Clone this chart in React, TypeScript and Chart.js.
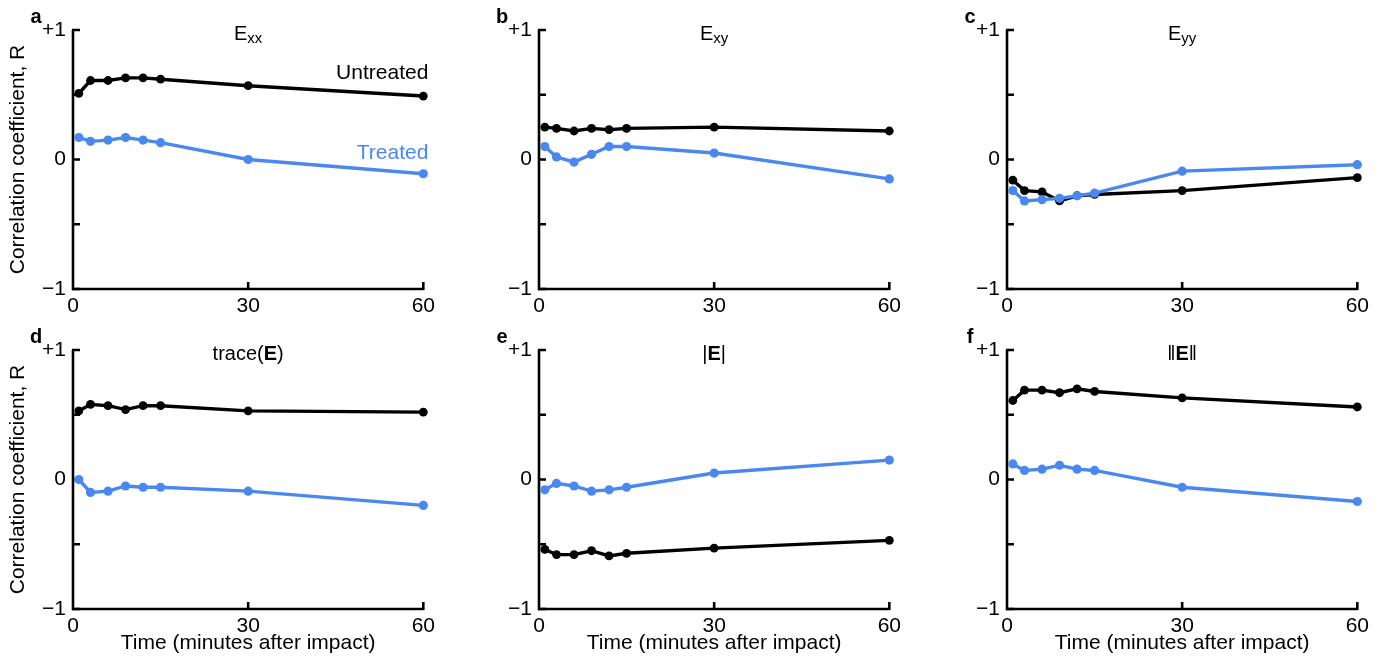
import React, { useEffect, useRef } from "react";
import { Chart, registerables } from "chart.js";

Chart.register(...registerables);

// ---- data ----
const times = [1, 3, 6, 9, 12, 15, 30, 60];

const exxUntreated = [0.51, 0.61, 0.61, 0.63, 0.63, 0.62, 0.57, 0.49];
const exxTreated = [0.17, 0.14, 0.15, 0.17, 0.15, 0.13, 0.0, -0.11];

const exyUntreated = [0.25, 0.24, 0.22, 0.24, 0.23, 0.24, 0.25, 0.22];
const exyTreated = [0.1, 0.02, -0.02, 0.04, 0.1, 0.1, 0.05, -0.15];

const eyyUntreated = [-0.16, -0.24, -0.25, -0.32, -0.28, -0.27, -0.24, -0.14];
const eyyTreated = [-0.24, -0.32, -0.31, -0.3, -0.28, -0.26, -0.09, -0.04];

const traceUntreated = [0.53, 0.58, 0.57, 0.54, 0.57, 0.57, 0.53, 0.52];
const traceTreated = [0.0, -0.1, -0.09, -0.05, -0.06, -0.06, -0.09, -0.2];

const detUntreated = [-0.54, -0.58, -0.58, -0.55, -0.59, -0.57, -0.53, -0.47];
const detTreated = [-0.08, -0.03, -0.05, -0.09, -0.08, -0.06, 0.05, 0.15];

const normUntreated = [0.61, 0.69, 0.69, 0.67, 0.7, 0.68, 0.63, 0.56];
const normTreated = [0.12, 0.07, 0.08, 0.11, 0.08, 0.07, -0.06, -0.17];

const xTicks = [0, 30, 60];
const yTicks = [-1, 0, 1];
const yTickLabels = ["\u22121", "0", "+1"];
const yMinorTicks = [-0.5, 0.5];
const seriesNames = ["Untreated", "Treated"];
const xTitle = "Time (minutes after impact)";
const yTitle = "Correlation coefficient, R";

// ---- style ----
const BLACK = "#000000";
const BLUE = "#4a88f0";
const FONT = "'Liberation Sans', Arial, Helvetica, sans-serif";

type Seg = { t: string; bold?: boolean; sub?: boolean };
type PanelCfg = {
  letter: string;
  title: Seg[];
  untreated: number[];
  treated: number[];
  showLabels?: boolean;
};

const panels: PanelCfg[] = [
  { letter: "a", title: [{ t: "E" }, { t: "xx", sub: true }], untreated: exxUntreated, treated: exxTreated, showLabels: true },
  { letter: "b", title: [{ t: "E" }, { t: "xy", sub: true }], untreated: exyUntreated, treated: exyTreated },
  { letter: "c", title: [{ t: "E" }, { t: "yy", sub: true }], untreated: eyyUntreated, treated: eyyTreated },
  { letter: "d", title: [{ t: "trace(" }, { t: "E", bold: true }, { t: ")" }], untreated: traceUntreated, treated: traceTreated },
  { letter: "e", title: [{ t: "|" }, { t: "E", bold: true }, { t: "|" }], untreated: detUntreated, treated: detTreated },
  { letter: "f", title: [{ t: "\u2016" }, { t: "E", bold: true }, { t: "\u2016" }], untreated: normUntreated, treated: normTreated },
];

const COL_LEFT = [0, 466, 934];
const CANVAS_W = 440;

function makeDecor(cfg: PanelCfg) {
  return {
    id: "decor",
    beforeDatasetsDraw(chart: any) {
      const { ctx, chartArea } = chart;
      const { left, right, top, bottom } = chartArea;
      const xs = chart.scales.x;
      const ys = chart.scales.y;
      ctx.save();
      ctx.strokeStyle = BLACK;
      ctx.lineWidth = 2.6;
      ctx.lineJoin = "miter";
      ctx.lineCap = "butt";
      ctx.beginPath();
      ctx.moveTo(left, top);
      ctx.lineTo(left, bottom);
      ctx.lineTo(right, bottom);
      ctx.stroke();
      ctx.beginPath();
      [...yTicks, ...yMinorTicks].forEach((v) => {
        const py = ys.getPixelForValue(v);
        ctx.moveTo(left - 1, py);
        ctx.lineTo(left + 7, py);
      });
      xTicks
        .filter((v) => v > 0)
        .forEach((v) => {
          const px = xs.getPixelForValue(v);
          ctx.moveTo(px, bottom + 1);
          ctx.lineTo(px, bottom - 7);
        });
      ctx.stroke();

      // panel letter
      ctx.fillStyle = BLACK;
      ctx.font = `bold 20px ${FONT}`;
      ctx.textAlign = "center";
      ctx.textBaseline = "alphabetic";
      ctx.fillText(cfg.letter, left - 37, top - 7.5);

      // panel title
      const mainSize = 20;
      const subSize = 15;
      const widths = cfg.title.map((s) => {
        ctx.font = `${s.bold ? "bold " : ""}${s.sub ? subSize : mainSize}px ${FONT}`;
        return ctx.measureText(s.t).width;
      });
      const total = widths.reduce((a, b) => a + b, 0);
      let px = (left + right) / 2 - total / 2;
      const base = top + 10;
      ctx.textAlign = "left";
      cfg.title.forEach((s, i) => {
        ctx.font = `${s.bold ? "bold " : ""}${s.sub ? subSize : mainSize}px ${FONT}`;
        ctx.fillText(s.t, px, base + (s.sub ? 3 : 0));
        px += widths[i];
      });

      if (cfg.showLabels) {
        ctx.font = `21px ${FONT}`;
        ctx.textAlign = "right";
        ctx.textBaseline = "middle";
        ctx.fillStyle = BLACK;
        ctx.fillText(seriesNames[0], right + 5, ys.getPixelForValue(0.67));
        ctx.fillStyle = BLUE;
        ctx.fillText(seriesNames[1], right + 5, ys.getPixelForValue(0.045));
      }
      ctx.restore();
    },
  };
}

function Panel({ cfg, row, col }: { cfg: PanelCfg; row: number; col: number }) {
  const ref = useRef<HTMLCanvasElement | null>(null);
  const height = row === 0 ? 318 : 338;
  const top = row === 0 ? 0 : 320;
  useEffect(() => {
    if (!ref.current) return;
    const tickFont = { family: FONT, size: 21 };
    const chart = new Chart(ref.current, {
      type: "line",
      data: {
        datasets: [
          {
            label: seriesNames[1],
            data: times.map((t, i) => ({ x: t, y: cfg.treated[i] })),
            borderColor: BLUE,
            backgroundColor: BLUE,
            borderWidth: 3.4,
            pointRadius: 4.6,
            pointHoverRadius: 4.6,
            pointBorderWidth: 0,
            tension: 0,
            clip: false as any,
          },
          {
            label: seriesNames[0],
            data: times.map((t, i) => ({ x: t, y: cfg.untreated[i] })),
            borderColor: BLACK,
            backgroundColor: BLACK,
            borderWidth: 3.4,
            pointRadius: 4.4,
            pointHoverRadius: 4.4,
            pointBorderWidth: 0,
            tension: 0,
            clip: false as any,
          },
        ],
      },
      options: {
        responsive: false,
        animation: false,
        events: [],
        devicePixelRatio: 1,
        layout: { padding: { top: 30, right: 13, bottom: 0, left: 0 } },
        plugins: {
          legend: { display: false },
          tooltip: { enabled: false },
          title: { display: false },
        },
        scales: {
          x: {
            type: "linear",
            min: 0,
            max: 60,
            grid: { display: false, drawTicks: false },
            border: { display: false },
            afterBuildTicks: (s: any) => {
              s.ticks = xTicks.map((v) => ({ value: v }));
            },
            ticks: {
              font: tickFont,
              color: BLACK,
              padding: 5,
              maxRotation: 0,
              autoSkip: false,
              callback: (v: any) => String(v),
            },
            title: {
              display: row === 1,
              text: xTitle,
              font: tickFont,
              color: BLACK,
              padding: { top: 0, bottom: 2 },
            },
            afterFit: (s: any) => {
              s.height = row === 0 ? 29 : 49;
            },
          },
          y: {
            type: "linear",
            min: -1,
            max: 1,
            grid: { display: false, drawTicks: false },
            border: { display: false },
            afterBuildTicks: (s: any) => {
              s.ticks = yTicks.map((v) => ({ value: v }));
            },
            ticks: {
              font: tickFont,
              color: BLACK,
              padding: 7,
              autoSkip: false,
              callback: (v: any) => yTickLabels[yTicks.indexOf(Number(v))],
            },
            title: {
              display: col === 0,
              text: yTitle,
              font: tickFont,
              color: BLACK,
              padding: { top: 6, bottom: 0 },
            },
            afterFit: (s: any) => {
              s.width = 73;
            },
          },
        },
      },
      plugins: [makeDecor(cfg)],
    } as any);
    return () => chart.destroy();
  }, [cfg, row, col]);
  return (
    <canvas
      ref={ref}
      width={CANVAS_W}
      height={height}
      style={{ position: "absolute", left: COL_LEFT[col], top, width: CANVAS_W, height }}
    />
  );
}

export default function App() {
  return (
    <div style={{ position: "absolute", left: 0, top: 0, width: 1388, height: 658, background: "#fff", overflow: "hidden" }}>
      {panels.map((p, i) => (
        <Panel key={p.letter} cfg={p} row={Math.floor(i / 3)} col={i % 3} />
      ))}
    </div>
  );
}
